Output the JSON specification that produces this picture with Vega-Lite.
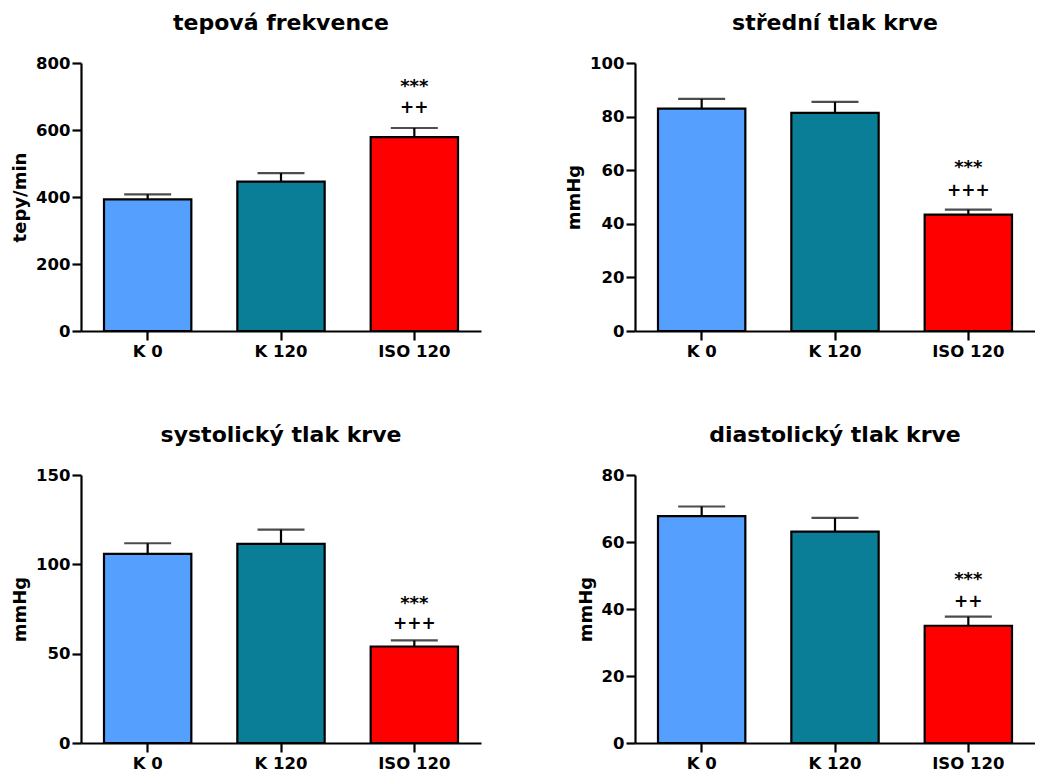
{
  "$schema": "https://vega.github.io/schema/vega-lite/v6.json",
  "padding": {"left": 11, "top": 12, "right": 0, "bottom": 0},
  "background": "white",
  "config": {
    "font": "DejaVu Sans",
    "view": {"stroke": null},
    "axis": {
      "domainColor": "black", "domainWidth": 2.2, "tickColor": "black", "tickWidth": 2.2, "tickSize": 9,
      "labelFont": "DejaVu Sans", "labelFontWeight": "bold", "labelFontSize": 16.5, "labelColor": "black", "labelPadding": 2,
      "titleFont": "DejaVu Sans", "titleFontWeight": "bold", "titleFontSize": 18, "titleColor": "black", "titlePadding": 6,
      "grid": false
    },
    "axisX": {"labelAngle": 0, "labelPadding": 3},
    "title": {"font": "DejaVu Sans", "fontSize": 22, "fontWeight": "bold", "color": "black", "offset": 20}
  },
  "datasets": {
    "hr": [
      {"group": "K 0", "mean": 393, "err": 408, "sig1": "", "sig2": ""},
      {"group": "K 120", "mean": 446, "err": 471, "sig1": "", "sig2": ""},
      {"group": "ISO 120", "mean": 579, "err": 606, "sig1": "***", "sig2": "++"}
    ],
    "map": [
      {"group": "K 0", "mean": 83.0, "err": 86.6, "sig1": "", "sig2": ""},
      {"group": "K 120", "mean": 81.4, "err": 85.5, "sig1": "", "sig2": ""},
      {"group": "ISO 120", "mean": 43.4, "err": 45.3, "sig1": "***", "sig2": "+++"}
    ],
    "sys": [
      {"group": "K 0", "mean": 105.8, "err": 111.8, "sig1": "", "sig2": ""},
      {"group": "K 120", "mean": 111.4, "err": 119.4, "sig1": "", "sig2": ""},
      {"group": "ISO 120", "mean": 54.0, "err": 57.4, "sig1": "***", "sig2": "+++"}
    ],
    "dia": [
      {"group": "K 0", "mean": 67.7, "err": 70.6, "sig1": "", "sig2": ""},
      {"group": "K 120", "mean": 63.1, "err": 67.2, "sig1": "", "sig2": ""},
      {"group": "ISO 120", "mean": 35.0, "err": 37.7, "sig1": "***", "sig2": "++"}
    ]
  },
  "bounds": "flush",
  "columns": 2,
  "spacing": {"row": 144, "column": 154},
  "concat": [
    {
      "title": "tepová frekvence",
      "width": 400, "height": 268,
      "data": {"name": "hr"},
      "encoding": {
        "x": {"field": "group", "type": "nominal", "sort": null, "title": null,
              "scale": {"paddingInner": 0.345, "paddingOuter": 0.1725}}
      },
      "layer": [
        {"mark": {"type": "rule", "strokeWidth": 2.2, "color": "black"},
         "encoding": {"y": {"field": "mean", "type": "quantitative"}, "y2": {"field": "err"}}},
        {"mark": {"type": "tick", "thickness": 2.2, "size": 47, "color": "black", "orient": "horizontal"},
         "encoding": {"y": {"field": "err", "type": "quantitative"}}},
        {"mark": {"type": "bar", "stroke": "black", "strokeWidth": 2.2},
         "encoding": {
           "y": {"field": "mean", "type": "quantitative", "title": "tepy/min",
                 "scale": {"domain": [0, 800], "nice": false}, "axis": {"values": [0, 200, 400, 600, 800]}},
           "fill": {"field": "group", "type": "nominal", "sort": null, "legend": null,
                    "scale": {"domain": ["K 0", "K 120", "ISO 120"], "range": ["#559FFF", "#0A7E96", "#FF0000"]}}
         }},
        {"transform": [{"filter": "datum.sig2 != ''"}],
         "mark": {"type": "text", "font": "DejaVu Sans", "fontWeight": "bold", "fontSize": 17, "baseline": "alphabetic", "dy": -15},
         "encoding": {"y": {"field": "err", "type": "quantitative"}, "text": {"field": "sig2"}}},
        {"transform": [{"filter": "datum.sig1 != ''"}],
         "mark": {"type": "text", "font": "DejaVu Sans", "fontWeight": "bold", "fontSize": 18, "baseline": "alphabetic", "dy": -36},
         "encoding": {"y": {"field": "err", "type": "quantitative"}, "text": {"field": "sig1"}}}
      ]
    },
    {
      "title": "střední tlak krve",
      "width": 400, "height": 268,
      "data": {"name": "map"},
      "encoding": {
        "x": {"field": "group", "type": "nominal", "sort": null, "title": null,
              "scale": {"paddingInner": 0.345, "paddingOuter": 0.1725}}
      },
      "layer": [
        {"mark": {"type": "rule", "strokeWidth": 2.2, "color": "black"},
         "encoding": {"y": {"field": "mean", "type": "quantitative"}, "y2": {"field": "err"}}},
        {"mark": {"type": "tick", "thickness": 2.2, "size": 47, "color": "black", "orient": "horizontal"},
         "encoding": {"y": {"field": "err", "type": "quantitative"}}},
        {"mark": {"type": "bar", "stroke": "black", "strokeWidth": 2.2},
         "encoding": {
           "y": {"field": "mean", "type": "quantitative", "title": "mmHg",
                 "scale": {"domain": [0, 100], "nice": false}, "axis": {"values": [0, 20, 40, 60, 80, 100]}},
           "fill": {"field": "group", "type": "nominal", "sort": null, "legend": null,
                    "scale": {"domain": ["K 0", "K 120", "ISO 120"], "range": ["#559FFF", "#0A7E96", "#FF0000"]}}
         }},
        {"transform": [{"filter": "datum.sig2 != ''"}],
         "mark": {"type": "text", "font": "DejaVu Sans", "fontWeight": "bold", "fontSize": 17, "baseline": "alphabetic", "dy": -14},
         "encoding": {"y": {"field": "err", "type": "quantitative"}, "text": {"field": "sig2"}}},
        {"transform": [{"filter": "datum.sig1 != ''"}],
         "mark": {"type": "text", "font": "DejaVu Sans", "fontWeight": "bold", "fontSize": 18, "baseline": "alphabetic", "dy": -37},
         "encoding": {"y": {"field": "err", "type": "quantitative"}, "text": {"field": "sig1"}}}
      ]
    },
    {
      "title": "systolický tlak krve",
      "width": 400, "height": 268,
      "data": {"name": "sys"},
      "encoding": {
        "x": {"field": "group", "type": "nominal", "sort": null, "title": null,
              "scale": {"paddingInner": 0.345, "paddingOuter": 0.1725}}
      },
      "layer": [
        {"mark": {"type": "rule", "strokeWidth": 2.2, "color": "black"},
         "encoding": {"y": {"field": "mean", "type": "quantitative"}, "y2": {"field": "err"}}},
        {"mark": {"type": "tick", "thickness": 2.2, "size": 47, "color": "black", "orient": "horizontal"},
         "encoding": {"y": {"field": "err", "type": "quantitative"}}},
        {"mark": {"type": "bar", "stroke": "black", "strokeWidth": 2.2},
         "encoding": {
           "y": {"field": "mean", "type": "quantitative", "title": "mmHg",
                 "scale": {"domain": [0, 150], "nice": false}, "axis": {"values": [0, 50, 100, 150]}},
           "fill": {"field": "group", "type": "nominal", "sort": null, "legend": null,
                    "scale": {"domain": ["K 0", "K 120", "ISO 120"], "range": ["#559FFF", "#0A7E96", "#FF0000"]}}
         }},
        {"transform": [{"filter": "datum.sig2 != ''"}],
         "mark": {"type": "text", "font": "DejaVu Sans", "fontWeight": "bold", "fontSize": 17, "baseline": "alphabetic", "dy": -11},
         "encoding": {"y": {"field": "err", "type": "quantitative"}, "text": {"field": "sig2"}}},
        {"transform": [{"filter": "datum.sig1 != ''"}],
         "mark": {"type": "text", "font": "DejaVu Sans", "fontWeight": "bold", "fontSize": 18, "baseline": "alphabetic", "dy": -31},
         "encoding": {"y": {"field": "err", "type": "quantitative"}, "text": {"field": "sig1"}}}
      ]
    },
    {
      "title": "diastolický tlak krve",
      "width": 400, "height": 268,
      "data": {"name": "dia"},
      "encoding": {
        "x": {"field": "group", "type": "nominal", "sort": null, "title": null,
              "scale": {"paddingInner": 0.345, "paddingOuter": 0.1725}}
      },
      "layer": [
        {"mark": {"type": "rule", "strokeWidth": 2.2, "color": "black"},
         "encoding": {"y": {"field": "mean", "type": "quantitative"}, "y2": {"field": "err"}}},
        {"mark": {"type": "tick", "thickness": 2.2, "size": 47, "color": "black", "orient": "horizontal"},
         "encoding": {"y": {"field": "err", "type": "quantitative"}}},
        {"mark": {"type": "bar", "stroke": "black", "strokeWidth": 2.2},
         "encoding": {
           "y": {"field": "mean", "type": "quantitative", "title": "mmHg",
                 "scale": {"domain": [0, 80], "nice": false}, "axis": {"values": [0, 20, 40, 60, 80]}},
           "fill": {"field": "group", "type": "nominal", "sort": null, "legend": null,
                    "scale": {"domain": ["K 0", "K 120", "ISO 120"], "range": ["#559FFF", "#0A7E96", "#FF0000"]}}
         }},
        {"transform": [{"filter": "datum.sig2 != ''"}],
         "mark": {"type": "text", "font": "DejaVu Sans", "fontWeight": "bold", "fontSize": 17, "baseline": "alphabetic", "dy": -10},
         "encoding": {"y": {"field": "err", "type": "quantitative"}, "text": {"field": "sig2"}}},
        {"transform": [{"filter": "datum.sig1 != ''"}],
         "mark": {"type": "text", "font": "DejaVu Sans", "fontWeight": "bold", "fontSize": 18, "baseline": "alphabetic", "dy": -32},
         "encoding": {"y": {"field": "err", "type": "quantitative"}, "text": {"field": "sig1"}}}
      ]
    }
  ]
}
